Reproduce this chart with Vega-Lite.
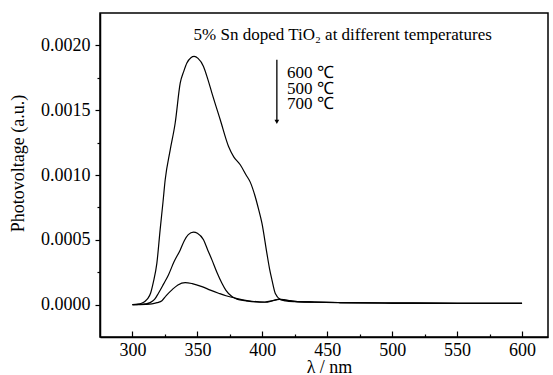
{
  "$schema": "https://vega.github.io/schema/vega-lite/v6.json",
  "width": 448,
  "height": 324,
  "autosize": {"type": "none"},
  "padding": {"left": 100, "top": 13, "right": 5, "bottom": 38},
  "background": "white",
  "config": {
    "view": {"stroke": "black", "strokeWidth": 1.5},
    "font": "Times New Roman",
    "text": {"font": "Times New Roman"},
    "axis": {
      "grid": false,
      "domainColor": "black",
      "domainWidth": 1.5,
      "tickColor": "black",
      "tickWidth": 1.2,
      "labelColor": "black",
      "titleColor": "black",
      "labelFont": "Times New Roman",
      "titleFont": "Times New Roman",
      "labelFontSize": 18,
      "titleFontSize": 18,
      "titleFontWeight": "normal"
    }
  },
  "resolve": {"axis": {"x": "independent", "y": "independent"}},
  "layer": [
    {
      "data": {
        "values": [
          {"s": "600", "x": 300, "y": 0},
          {"s": "600", "x": 304, "y": 0.000003},
          {"s": "600", "x": 307, "y": 0.00001},
          {"s": "600", "x": 310, "y": 0.000028},
          {"s": "600", "x": 312, "y": 0.00005},
          {"s": "600", "x": 314, "y": 0.00009},
          {"s": "600", "x": 316, "y": 0.00017},
          {"s": "600", "x": 318.8, "y": 0.00032},
          {"s": "600", "x": 321.3, "y": 0.000577},
          {"s": "600", "x": 323.5, "y": 0.00079},
          {"s": "600", "x": 325.2, "y": 0.000963},
          {"s": "600", "x": 329, "y": 0.00119},
          {"s": "600", "x": 332.9, "y": 0.001401},
          {"s": "600", "x": 336.8, "y": 0.00171},
          {"s": "600", "x": 339.5, "y": 0.0018},
          {"s": "600", "x": 341.9, "y": 0.001864},
          {"s": "600", "x": 345, "y": 0.001905},
          {"s": "600", "x": 347.5, "y": 0.001915},
          {"s": "600", "x": 350.5, "y": 0.0019},
          {"s": "600", "x": 354.7, "y": 0.001838},
          {"s": "600", "x": 358, "y": 0.00174},
          {"s": "600", "x": 361.2, "y": 0.001632},
          {"s": "600", "x": 367.6, "y": 0.001426},
          {"s": "600", "x": 374, "y": 0.00122},
          {"s": "600", "x": 378, "y": 0.00114},
          {"s": "600", "x": 383, "y": 0.001079},
          {"s": "600", "x": 387.5, "y": 0.001},
          {"s": "600", "x": 390.7, "y": 0.000945},
          {"s": "600", "x": 394.5, "y": 0.000834},
          {"s": "600", "x": 397, "y": 0.00074},
          {"s": "600", "x": 399.7, "y": 0.000628},
          {"s": "600", "x": 403.5, "y": 0.000397},
          {"s": "600", "x": 405.5, "y": 0.00028},
          {"s": "600", "x": 407.4, "y": 0.000191},
          {"s": "600", "x": 410, "y": 0.000085},
          {"s": "600", "x": 413.8, "y": 0.00004},
          {"s": "600", "x": 418, "y": 0.000028},
          {"s": "600", "x": 425, "y": 0.000022},
          {"s": "600", "x": 440, "y": 0.000018},
          {"s": "600", "x": 460, "y": 0.000015},
          {"s": "600", "x": 500, "y": 0.000012},
          {"s": "600", "x": 550, "y": 0.00001},
          {"s": "600", "x": 600, "y": 0.00001},
          {"s": "500", "x": 300, "y": 0},
          {"s": "500", "x": 305, "y": 0.000002},
          {"s": "500", "x": 310, "y": 0.000006},
          {"s": "500", "x": 313.6, "y": 0.000015},
          {"s": "500", "x": 317, "y": 0.00004},
          {"s": "500", "x": 320, "y": 0.000088},
          {"s": "500", "x": 324, "y": 0.00016},
          {"s": "500", "x": 327.7, "y": 0.000229},
          {"s": "500", "x": 332, "y": 0.00033},
          {"s": "500", "x": 336.8, "y": 0.000422},
          {"s": "500", "x": 340, "y": 0.000495},
          {"s": "500", "x": 343, "y": 0.00054},
          {"s": "500", "x": 347, "y": 0.000559},
          {"s": "500", "x": 350, "y": 0.00055},
          {"s": "500", "x": 354.7, "y": 0.0005},
          {"s": "500", "x": 358, "y": 0.00042},
          {"s": "500", "x": 361.2, "y": 0.000345},
          {"s": "500", "x": 365, "y": 0.00025},
          {"s": "500", "x": 368.9, "y": 0.000165},
          {"s": "500", "x": 372, "y": 0.00011},
          {"s": "500", "x": 376.6, "y": 0.000062},
          {"s": "500", "x": 381, "y": 0.00004},
          {"s": "500", "x": 386.8, "y": 0.00003},
          {"s": "500", "x": 395, "y": 0.00002},
          {"s": "500", "x": 402.2, "y": 0.000018},
          {"s": "500", "x": 408, "y": 0.00003},
          {"s": "500", "x": 413, "y": 0.000042},
          {"s": "500", "x": 418, "y": 0.000035},
          {"s": "500", "x": 425, "y": 0.000025},
          {"s": "500", "x": 440, "y": 0.00002},
          {"s": "500", "x": 460, "y": 0.000016},
          {"s": "500", "x": 500, "y": 0.000012},
          {"s": "500", "x": 550, "y": 0.00001},
          {"s": "500", "x": 600, "y": 0.00001},
          {"s": "700", "x": 300, "y": 0},
          {"s": "700", "x": 310, "y": 0.000002},
          {"s": "700", "x": 315, "y": 0.000005},
          {"s": "700", "x": 319, "y": 0.000015},
          {"s": "700", "x": 322.7, "y": 0.00003},
          {"s": "700", "x": 326, "y": 0.00007},
          {"s": "700", "x": 330.4, "y": 0.000114},
          {"s": "700", "x": 335, "y": 0.000152},
          {"s": "700", "x": 340.6, "y": 0.00017},
          {"s": "700", "x": 346, "y": 0.000162},
          {"s": "700", "x": 353.5, "y": 0.000139},
          {"s": "700", "x": 360, "y": 0.000112},
          {"s": "700", "x": 366.3, "y": 0.000088},
          {"s": "700", "x": 372, "y": 0.000068},
          {"s": "700", "x": 379.1, "y": 0.00005},
          {"s": "700", "x": 385, "y": 0.000036},
          {"s": "700", "x": 392, "y": 0.000026},
          {"s": "700", "x": 402, "y": 0.00002},
          {"s": "700", "x": 408, "y": 0.00003},
          {"s": "700", "x": 413, "y": 0.00004},
          {"s": "700", "x": 418, "y": 0.000035},
          {"s": "700", "x": 425, "y": 0.000025},
          {"s": "700", "x": 440, "y": 0.00002},
          {"s": "700", "x": 460, "y": 0.000016},
          {"s": "700", "x": 500, "y": 0.000012},
          {"s": "700", "x": 550, "y": 0.00001},
          {"s": "700", "x": 600, "y": 0.00001}
        ]
      },
      "mark": {"type": "line", "color": "black", "strokeWidth": 1.2, "interpolate": "monotone"},
      "encoding": {
        "x": {
          "field": "x", "type": "quantitative",
          "scale": {"domain": [275, 620], "nice": false, "zero": false},
          "axis": {
            "orient": "bottom",
            "values": [300, 350, 400, 450, 500, 550, 600],
            "tickSize": -6,
            "labelPadding": 10,
            "labelFont": "Times New Roman",
            "labelFontSize": 18,
            "titleFont": "Times New Roman",
            "titleFontSize": 18,
            "title": "λ / nm",
            "titleX": 229,
            "titleY": 30,
            "titleBaseline": "middle"
          }
        },
        "y": {
          "field": "y", "type": "quantitative",
          "scale": {"domain": [-0.00025, 0.00225], "nice": false, "zero": false},
          "axis": {
            "orient": "left",
            "values": [0, 0.0005, 0.001, 0.0015, 0.002],
            "format": ".4f",
            "tickSize": 5,
            "labelPadding": 5,
            "labelFont": "Times New Roman",
            "labelFontSize": 18,
            "titleFont": "Times New Roman",
            "titleFontSize": 18,
            "title": "Photovoltage (a.u.)",
            "titleX": -82,
            "titleY": 150,
            "titleBaseline": "middle"
          }
        },
        "detail": {"field": "s", "type": "nominal"}
      }
    },
    {
      "data": {"values": [{"x": 411.2, "y": 0.00189, "y2": 0.00142}]},
      "mark": {"type": "rule", "color": "black", "strokeWidth": 1.3},
      "encoding": {
        "x": {
          "field": "x", "type": "quantitative",
          "axis": {
            "orient": "bottom",
            "values": [325, 375, 425, 475, 525, 575],
            "tickSize": -3,
            "labels": false,
            "domain": false,
            "title": null
          }
        },
        "y": {
          "field": "y", "type": "quantitative",
          "axis": {
            "orient": "left",
            "values": [0.00025, 0.00075, 0.00125, 0.00175],
            "tickSize": 3,
            "labels": false,
            "domain": false,
            "title": null
          }
        },
        "y2": {"field": "y2"}
      }
    },
    {
      "data": {"values": [{"x": 411.2, "y": 0.00141}]},
      "mark": {"type": "point", "shape": "triangle-down", "filled": true, "color": "black", "size": 22, "opacity": 1},
      "encoding": {
        "x": {"field": "x", "type": "quantitative", "axis": null},
        "y": {"field": "y", "type": "quantitative", "axis": null}
      }
    },
    {
      "data": {"values": [{"x": 461.9, "y": 0.002044, "t": "5% Sn doped TiO₂ at different temperatures"}]},
      "mark": {"type": "text", "font": "Times New Roman", "fontSize": 17, "align": "center", "baseline": "alphabetic", "color": "black"},
      "encoding": {
        "x": {"field": "x", "type": "quantitative", "axis": null},
        "y": {"field": "y", "type": "quantitative", "axis": null},
        "text": {"field": "t"}
      }
    },
    {
      "data": {
        "values": [
          {"x": 419.1, "y": 0.00175, "t": "600 ℃"},
          {"x": 419.1, "y": 0.001627, "t": "500 ℃"},
          {"x": 419.1, "y": 0.001509, "t": "700 ℃"}
        ]
      },
      "mark": {"type": "text", "font": "Times New Roman", "fontSize": 17, "align": "left", "baseline": "alphabetic", "color": "black"},
      "encoding": {
        "x": {"field": "x", "type": "quantitative", "axis": null},
        "y": {"field": "y", "type": "quantitative", "axis": null},
        "text": {"field": "t"}
      }
    }
  ]
}
